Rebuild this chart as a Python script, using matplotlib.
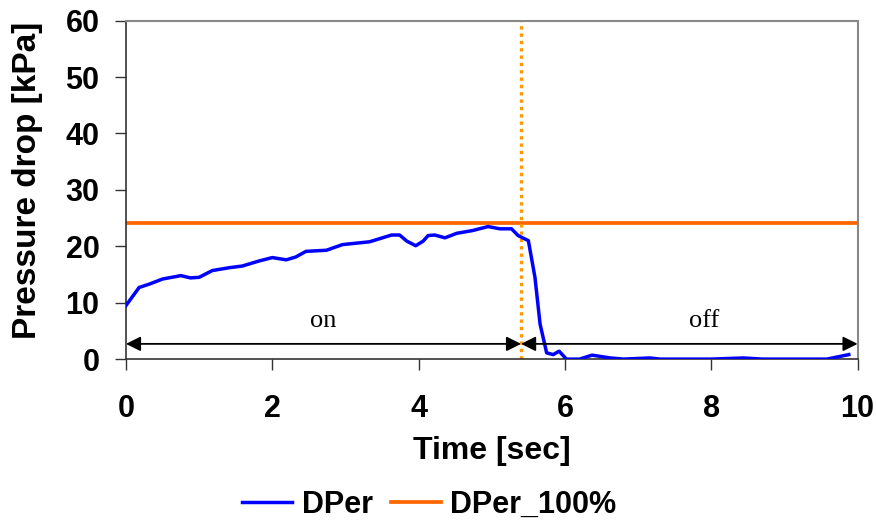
import matplotlib
matplotlib.use("Agg")
import matplotlib.pyplot as plt

# measured pressure drop over one on/off cycle
time_s = [0.0, 0.18, 0.32, 0.5, 0.75, 0.88, 1.0, 1.18, 1.41, 1.59, 1.82, 2.0,
          2.19, 2.32, 2.46, 2.74, 2.96, 3.33, 3.63, 3.74, 3.84, 3.96, 4.06,
          4.13, 4.22, 4.36, 4.52, 4.74, 4.95, 5.11, 5.27, 5.36, 5.5, 5.59,
          5.66, 5.75, 5.84, 5.92, 6.02, 6.2, 6.37, 6.62, 6.8, 7.16, 7.3,
          8.0, 8.44, 8.7, 9.2, 9.58, 9.88]
dper = [9.5, 12.7, 13.3, 14.2, 14.8, 14.4, 14.5, 15.7, 16.2, 16.5, 17.4, 18.0,
        17.6, 18.1, 19.1, 19.3, 20.3, 20.8, 22.0, 22.0, 20.9, 20.1, 20.9,
        21.9, 22.0, 21.5, 22.3, 22.8, 23.5, 23.1, 23.1, 21.9, 21.0, 14.5,
        6.2, 1.1, 0.8, 1.4, 0.0, 0.0, 0.7, 0.2, 0.0, 0.2, 0.0,
        0.0, 0.2, 0.0, 0.0, 0.0, 0.8]
dper_100 = 24.1
switch_time = 5.4
t_end = 10.0

fig = plt.figure(figsize=(8.76, 5.25), dpi=100)
ax = fig.add_axes([0.1438, 0.316, 0.8352, 0.6446])

ax.plot(time_s, dper, color="#0000FF", lw=2.5, label="DPer", zorder=3,
        solid_joinstyle="round")
ax.axhline(dper_100, color="#FF6600", lw=2.7, label="DPer_100%", zorder=2)
ax.axvline(switch_time, color="#FF9900", lw=2.4, ls=(0, (1, 1.2)), zorder=2)

# on / off intervals
arrow = dict(arrowstyle="<|-|>", color="black", lw=1.3, mutation_scale=22,
             shrinkA=0, shrinkB=0)
ax.annotate("", xy=(0, 2.7), xytext=(switch_time, 2.7), arrowprops=arrow, zorder=4)
ax.annotate("", xy=(switch_time, 2.7), xytext=(t_end, 2.7), arrowprops=arrow, zorder=4)
ax.text(2.7, 6.8, "on", family="Liberation Serif", fontsize=19, ha="center", va="center")
ax.text(7.9, 6.8, "off", family="Liberation Serif", fontsize=19, ha="center", va="center")

ax.set_xlim(0, 10)
ax.set_ylim(0, 60)
ax.set_xticks(range(0, 11, 2))
ax.set_yticks(range(0, 61, 10))

for side in ("left", "bottom"):
    ax.spines[side].set_color("#333333")
    ax.spines[side].set_linewidth(1.2)
for side in ("top", "right"):
    ax.spines[side].set_color("#888888")
    ax.spines[side].set_linewidth(1.5)

ax.tick_params(direction="out", length=8, width=1, color="#333333")
ax.tick_params(axis="x", pad=17)
ax.tick_params(axis="y", pad=11)
for lbl in ax.get_xticklabels() + ax.get_yticklabels():
    lbl.set_family("Liberation Sans")
    lbl.set_fontweight("bold")
    lbl.set_fontsize(22)

ax.set_xlabel("Time [sec]", family="Liberation Sans", fontweight="bold",
              fontsize=23, va="center")
ax.xaxis.set_label_coords(0.5, -0.272)
ax.set_ylabel("Pressure drop [kPa]", family="Liberation Sans", fontweight="bold",
              fontsize=24, va="center")
ax.yaxis.set_label_coords(-0.134, 0.529)

fig.legend(loc="center", bbox_to_anchor=(0.49, 0.038), ncol=2, frameon=False,
           prop={"family": "Liberation Sans", "weight": "bold", "size": 22},
           handlelength=1.65, handletextpad=0.3, columnspacing=0.6)

fig.savefig("out.png", dpi=100)
